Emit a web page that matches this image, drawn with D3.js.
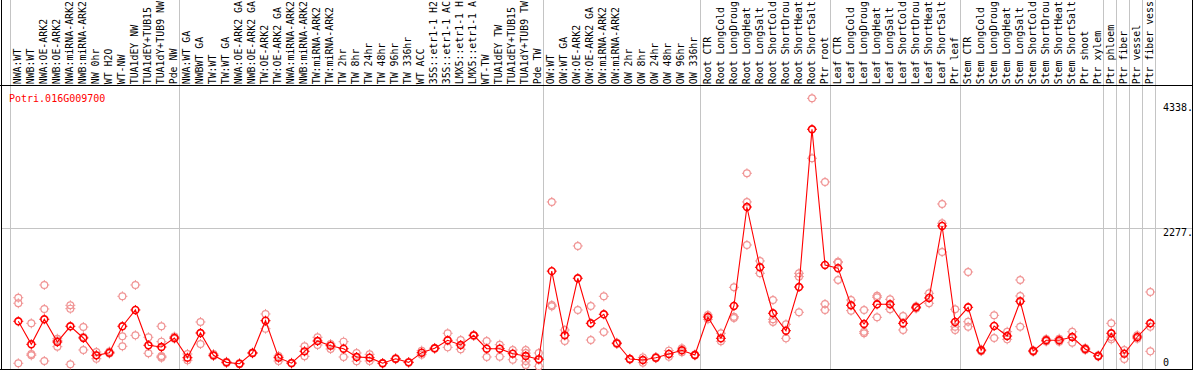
<!DOCTYPE html>
<html>
<head>
<meta charset="utf-8">
<script src="https://d3js.org/d3.v7.min.js"></script>
<style>
  html, body { margin: 0; padding: 0; background: #fff; overflow: hidden; }
  svg { display: block; }
  text { font-family: "DejaVu Sans Mono", "Liberation Mono", monospace; font-size: 10px; }
</style>
</head>
<body>
<script>
const geneId = "Potri.016G009700";

// column labels as shown (truncated to 14 characters in the reference)
const categories = [
  "NWA:WT","NWB:WT","NWA:OE-ARK2","NWB:OE-ARK2","NWA:miRNA-ARK2","NWB:miRNA-ARK2","NW 0hr","WT H2O","WT-NW","TUA1dEY NW","TUA1dEY+TUB15","TUA1dY+TUB9 NW","Pde NW",
  "NWA:WT GA","NWBWT GA","TW:WT","TW:WT GA","NWA:OE-ARK2 GA","NWB:OE-ARK2 GA","TW:OE-ARK2","TW:OE-ARK2 GA","NWA:miRNA-ARK2","NWB:miRNA-ARK2","TW:miRNA-ARK2","TW:miRNA-ARK2","TW 2hr","TW 8hr","TW 24hr","TW 48hr","TW 96hr","TW 336hr","WT ACC","35S::etr1-1 H2","35S::etr1-1 AC","LMX5::etr1-1 H","LMX5::etr1-1 A","WT-TW","TUA1dEY TW","TUA1dEY+TUB15","TUA1dY+TUB9 TW","Pde TW",
  "OW:WT","OW:WT GA","OW:OE-ARK2","OW:OE-ARK2 GA","OW:miRNA-ARK2","OW:miRNA-ARK2","OW 2hr","OW 8hr","OW 24hr","OW 48hr","OW 96hr","OW 336hr",
  "Root CTR","Root LongCold","Root LongDroug","Root LongHeat","Root LongSalt","Root ShortCold","Root ShortDrou","Root ShortHeat","Root ShortSalt","Ptr root",
  "Leaf CTR","Leaf LongCold","Leaf LongDroug","Leaf LongHeat","Leaf LongSalt","Leaf ShortCold","Leaf ShortDrou","Leaf ShortHeat","Leaf ShortSalt","Ptr leaf",
  "Stem CTR","Stem LongCold","Stem LongDroug","Stem LongHeat","Stem LongSalt","Stem ShortCold","Stem ShortDrou","Stem ShortHeat","Stem ShortSalt","Ptr shoot","Ptr xylem",
  "Ptr phloem","Ptr fiber","Ptr vessel","Ptr fiber vess"
];

// index of the first category of each group (plus the end)
const groupBreaks = [0, 13, 41, 53, 63, 73, 84, 85, 86, 87, 88];

const meanValues = [
  767, 393, 800, 431, 686, 496, 214, 257, 686, 951, 377, 349, 496,
  176, 577, 214, 100, 78, 252, 777, 176, 87, 279, 447, 371, 322, 187, 176, 85, 159, 100, 257, 328, 458, 382, 539, 322, 322, 241, 203, 149,
  1582, 539, 1466, 734, 881, 409, 154, 138, 176, 236, 296, 219,
  837, 490, 1016, 2624, 1644, 897, 614, 1324, 3887, 1682,
  1630, 1027, 723, 1043, 1043, 734, 994, 1146, 2316, 756,
  994, 296, 691, 528, 1092, 284, 458, 458, 512, 317, 203,
  572, 241, 512, 734
];

const replicateValues = [
  [1150,1060,85],[734,236,214],[1357,967,122],[484,354,455],[1027,972,68],[674,301,510],[268,159,215],[276,244,250],[1173,523,361],[1357,539],[507,247],[686,436,203,176,190],[518,484],
  [236,133],[756,398],[236,203],[110,90],[85,70],[260,245],[886,647],[203,122],[95,80],[361,198],[507,382],[398,317],[436,187],[252,117],[230,122],[90,80],[165,150],[105,95],[225,290],[335,320],[572,344],[463,312],[545,530],[447,187],[387,192],[301,143],[301,250,122,57],[252,35,149],
  [2706,1030,1010],[626,447],[1991,951],[1016,463],[1173,593],[420,400],[160,148],[180,95],[185,168],[290,192],[330,265],[228,212],
  [869,799],[572,442],[1319,842,821],[3172,2706,2007],[1747,1547],[1113,799,756],[718,490],[1547,1492,913],[4390,3416],[3031,1048,951],
  [1736,1720,1438],[1113,940],[951,598,572],[1180,1157,832],[1124,962],[853,626],[1010,975],[1222,1060],[2673,2360,1893],[962,679,626],
  [1568,760,679],[310,282],[864,496],[598,474],[1438,1178,679],[295,272],[480,440],[485,435],[598,419],[335,300],[215,195],
  [734,474,510],[301,154],[540,485],[1243,679,279]
];

const yTickValues = [0, 2277, 4338];
const yTickLabels = ["0", "2277.", "4338."];

const W = 1194, H = 370;
const svg = d3.select("body").append("svg").attr("width", W).attr("height", H);

// column boundaries and positions
const xb = d3.scaleLinear().domain([0, categories.length]).range([10.5, 1155.5]);
const xp = i => xb(i) + 7.8;
const y = d3.scaleLinear().domain([0, 4338]).range([368.5, 101.5]);

// horizontal grid line
svg.append("line")
  .attr("x1", 1).attr("x2", 1192).attr("y1", Math.round(y(2277)) + 0.5).attr("y2", Math.round(y(2277)) + 0.5)
  .attr("stroke", "#c4c4c4").attr("stroke-width", 1);

// vertical separators
svg.selectAll("line.sep").data(groupBreaks).join("line")
  .attr("class", "sep")
  .attr("x1", d => Math.round(xb(d) - 0.5) + 0.5).attr("x2", d => Math.round(xb(d) - 0.5) + 0.5)
  .attr("y1", 0).attr("y2", 369)
  .attr("stroke", "#c4c4c4").attr("stroke-width", 1);

// frame
svg.append("line").attr("x1", 0).attr("x2", 1193).attr("y1", 85.5).attr("y2", 85.5).attr("stroke", "#000");
svg.append("line").attr("x1", 0).attr("x2", 1193).attr("y1", 369.5).attr("y2", 369.5).attr("stroke", "#000");
svg.append("line").attr("x1", 1.5).attr("x2", 1.5).attr("y1", 0).attr("y2", 370).attr("stroke", "#000");
svg.append("line").attr("x1", 1192.5).attr("x2", 1192.5).attr("y1", 0).attr("y2", 370).attr("stroke", "#000");

// column labels (rotated)
svg.selectAll("text.cat").data(categories).join("text")
  .attr("class", "cat")
  .attr("transform", (d, i) => `translate(${xp(i) + 2.6},84.3) rotate(-90)`)
  .attr("fill", "#000")
  .style("font-size", "9.9px")
  .text(d => d);

// gene id
svg.append("text").attr("x", 9).attr("y", 101.5).attr("fill", "#ff0000").text(geneId);

// y tick labels
const tickDy = [-3, 7.2, 9];
svg.selectAll("text.ytick").data(yTickValues).join("text")
  .attr("class", "ytick")
  .attr("x", 1163).attr("y", (d, i) => y(d) + tickDy[i])
  .attr("fill", "#000")
  .text((d, i) => yTickLabels[i]);

// marker shape: ring with small ticks
function marker(g, cx, cy, color, sw) {
  const r = 3.4;
  g.append("circle").attr("cx", cx).attr("cy", cy).attr("r", r)
    .attr("fill", "none").attr("stroke", color).attr("stroke-width", sw);
  const t = 1.6;
  const p = `M${cx},${cy - r - t}V${cy - r}M${cx},${cy + r}V${cy + r + t}M${cx - r - t},${cy}H${cx - r}M${cx + r},${cy}H${cx + r + t}`;
  g.append("path").attr("d", p).attr("stroke", color).attr("stroke-width", 1).attr("fill", "none");
}

// replicates
const gRep = svg.append("g");
replicateValues.forEach((arr, i) => {
  arr.forEach(v => marker(gRep, xp(i), y(v), "#f09494", 1.2));
});

// mean line
const line = d3.line().x((d, i) => xp(i)).y(d => y(d));
svg.append("path").datum(meanValues).attr("d", line)
  .attr("fill", "none").attr("stroke", "#ff0000").attr("stroke-width", 1.1);

// mean markers
const gMean = svg.append("g");
meanValues.forEach((v, i) => marker(gMean, xp(i), y(v), "#ff0000", 1.6));
</script>
</body>
</html>
